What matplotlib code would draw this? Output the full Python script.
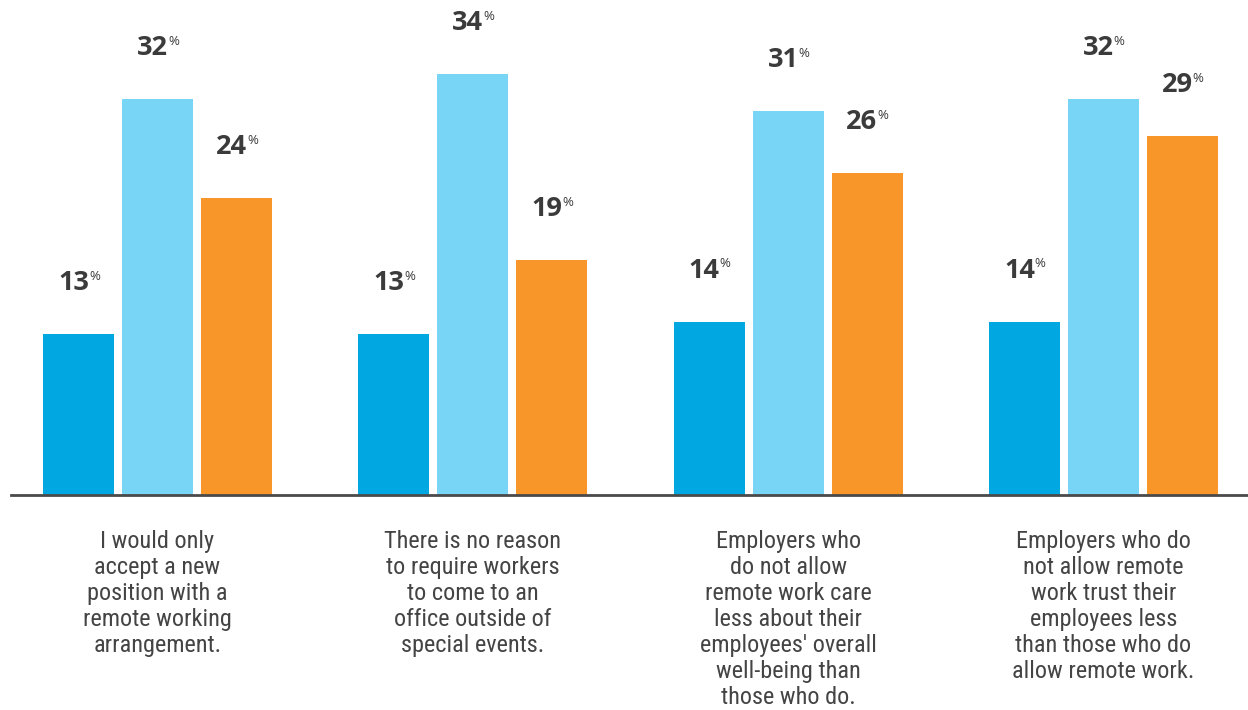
import numpy as np
import matplotlib
matplotlib.use("Agg")
import matplotlib.pyplot as plt
from matplotlib import font_manager

categories = [
    "I would only\naccept a new\nposition with a\nremote working\narrangement.",
    "There is no reason\nto require workers\nto come to an\noffice outside of\nspecial events.",
    "Employers who\ndo not allow\nremote work care\nless about their\nemployees' overall\nwell-being than\nthose who do.",
    "Employers who do\nnot allow remote\nwork trust their\nemployees less\nthan those who do\nallow remote work.",
]
series_a = [13, 13, 14, 14]
series_b = [32, 34, 31, 32]
series_c = [24, 19, 26, 29]

colors = ["#00A7E1", "#79D5F5", "#F8962A"]

names = {f.name for f in font_manager.fontManager.ttflist}
narrow = "Liberation Sans Narrow" if "Liberation Sans Narrow" in names else "Roboto Condensed" if "Roboto Condensed" in names else "Liberation Sans"
bold_font = "Open Sans"

fig = plt.figure(figsize=(12.48, 7.10), dpi=100)
ax = fig.add_axes([0, 0, 1, 1])
ax.set_xlim(-0.4995, 3.4586)
ax.set_ylim(-17.37, 40)
ax.axis("off")

x = np.arange(len(categories))
width = 0.225
step = 0.2505
for i, vals in enumerate([series_a, series_b, series_c]):
    xs = x + (i - 1) * step
    ax.bar(xs, vals, width=width, color=colors[i], zorder=2)
    for xi, v in zip(xs, vals):
        # number plus a small raised percent sign, centred together over the bar
        ax.annotate(str(v), xy=(xi, v + 3.55), xytext=(7.5, 0), textcoords="offset points",
                    ha="right", va="baseline", fontsize=19.5, fontweight="bold",
                    family=bold_font, color="#3b3b3b")
        ax.annotate("%", xy=(xi, v + 3.55), xytext=(7.5, 7.5), textcoords="offset points",
                    ha="left", va="baseline", fontsize=9.5, family=bold_font, color="#3b3b3b")

ax.axhline(0, xmin=11 / 1248, xmax=1, color="#4a4a4a", lw=2, zorder=3)

for xi, cat in zip(x, categories):
    ax.text(xi, -2.85, cat, ha="center", va="top", fontsize=17.5, family=narrow,
            color="#444444", linespacing=1.16)

fig.savefig("out.png", dpi=100)
